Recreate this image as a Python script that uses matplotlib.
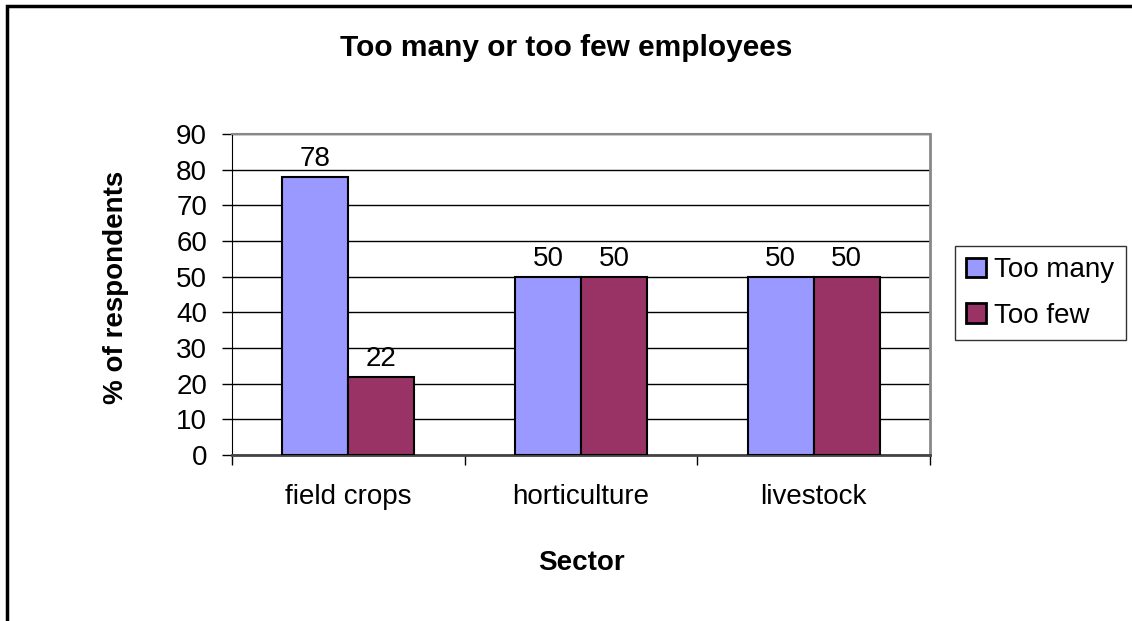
import matplotlib.pyplot as plt
from matplotlib.patches import Rectangle
import numpy as np

plt.rcParams['font.family'] = ['Liberation Sans', 'DejaVu Sans']

sectors = ["field crops", "horticulture", "livestock"]
too_many = [78, 50, 50]
too_few = [22, 50, 50]
series_names = ["Too many", "Too few"]
colors = ["#9999FF", "#993366"]

FS = 20

fig = plt.figure(figsize=(11.32, 6.21), dpi=100)
ax = fig.add_axes([0.205, 0.2673, 0.6166, 0.5169])

x = np.arange(len(sectors))
w = 0.284
b1 = ax.bar(x - w / 2, too_many, w, color=colors[0], edgecolor="black", linewidth=1.5,
            label=series_names[0], zorder=3)
b2 = ax.bar(x + w / 2, too_few, w, color=colors[1], edgecolor="black", linewidth=1.5,
            label=series_names[1], zorder=3)
for bars, vals in ((b1, too_many), (b2, too_few)):
    for r, v in zip(bars, vals):
        ax.text(r.get_x() + r.get_width() / 2, v + 1.3, str(v), ha="center", va="bottom",
                fontsize=FS, zorder=4)

ax.set_xlim(-0.5, 2.5)
ax.set_ylim(0, 90)
ax.set_yticks(range(0, 91, 10))
ax.yaxis.grid(True, color="black", linewidth=1)
ax.set_axisbelow(True)

ax.set_xticks(x)
ax.set_xticklabels(sectors, fontsize=FS)
ax.set_xticks([-0.5, 0.5, 1.5, 2.5], minor=True)
ax.tick_params(axis="x", which="major", length=0, pad=21)
ax.tick_params(axis="x", which="minor", length=7, width=1, direction="out")
ax.tick_params(axis="y", length=7, width=1, labelsize=FS, pad=11)

ax.spines["left"].set_color("black")
ax.spines["bottom"].set_color("#444444")
ax.spines["bottom"].set_linewidth(2)
ax.spines["top"].set_color("#888888")
ax.spines["right"].set_color("#888888")
ax.spines["top"].set_linewidth(1.5)
ax.spines["right"].set_linewidth(2)

ax.set_xlabel("Sector", fontsize=FS, fontweight="bold", labelpad=29)
ax.set_ylabel("% of respondents", fontsize=FS, fontweight="bold")
ax.yaxis.set_label_coords(-0.148, 0.523)

fig.text(0.5, 0.922, "Too many or too few employees", ha="center", va="center",
         fontsize=21.5, fontweight="bold")

leg = fig.legend(loc="upper left", bbox_to_anchor=(955 / 1132, 1 - 246 / 621), fontsize=FS,
                 frameon=True, fancybox=False, edgecolor="black", handlelength=0.72,
                 handleheight=0.72, handletextpad=0.3, labelspacing=0.7, borderpad=0.4,
                 borderaxespad=0)
leg.get_frame().set_linewidth(1)
for h in leg.legend_handles:
    h.set_linewidth(2)

# outer chart border (continues beyond the right and bottom edges)
fig.add_artist(Rectangle((7 / 1132, -0.1), 1.2, 1 - 6 / 621 + 0.1, transform=fig.transFigure,
                         fill=False, edgecolor="black", linewidth=2.5))

fig.savefig("out.png", dpi=100)
